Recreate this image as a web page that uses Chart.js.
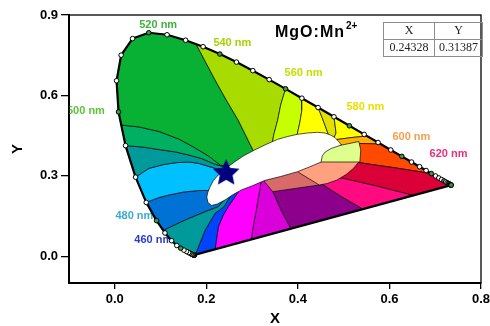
<!DOCTYPE html>
<html>
<head>
<meta charset="utf-8">
<script src="https://cdn.jsdelivr.net/npm/chart.js@4/dist/chart.umd.min.js"></script>
<style>
  html, body { margin: 0; padding: 0; background: #fff; overflow: hidden; }
  #wrap { width: 490px; height: 326px; overflow: hidden; position: relative; }
  canvas { display: block; }
</style>
</head>
<body>
<div id="wrap"><canvas id="cie" width="496" height="326"></canvas></div>
<script>
// ---- CIE 1931 spectral locus (5 nm steps) ----
const locusNm = [380,385,390,395,400,405,410,415,420,425,430,435,440,445,450,455,460,465,470,475,480,485,490,495,500,505,510,515,520,525,530,535,540,545,550,555,560,565,570,575,580,585,590,595,600,605,610,615,620,625,630,635,640,645,650,655,660,665,670,675,680,685,690,695,700];
const locusX = [0.1741,0.1740,0.1738,0.1736,0.1733,0.1730,0.1726,0.1721,0.1714,0.1703,0.1689,0.1669,0.1644,0.1611,0.1566,0.1510,0.1440,0.1355,0.1241,0.1096,0.0913,0.0687,0.0454,0.0235,0.0082,0.0039,0.0139,0.0389,0.0743,0.1142,0.1547,0.1929,0.2296,0.2658,0.3016,0.3373,0.3731,0.4087,0.4441,0.4788,0.5125,0.5448,0.5752,0.6029,0.6270,0.6482,0.6658,0.6801,0.6915,0.7006,0.7079,0.7140,0.7190,0.7230,0.7260,0.7283,0.7300,0.7311,0.7320,0.7327,0.7334,0.7340,0.7344,0.7346,0.7347];
const locusY = [0.0050,0.0050,0.0049,0.0049,0.0048,0.0048,0.0048,0.0048,0.0051,0.0058,0.0069,0.0086,0.0109,0.0138,0.0177,0.0227,0.0297,0.0399,0.0578,0.0868,0.1327,0.2007,0.2950,0.4127,0.5384,0.6548,0.7502,0.8120,0.8338,0.8262,0.8059,0.7816,0.7543,0.7243,0.6923,0.6589,0.6245,0.5896,0.5547,0.5202,0.4866,0.4544,0.4242,0.3965,0.3725,0.3514,0.3340,0.3197,0.3083,0.2993,0.2920,0.2859,0.2809,0.2770,0.2740,0.2717,0.2700,0.2689,0.2680,0.2673,0.2666,0.2660,0.2656,0.2654,0.2653];

// ---- measured emission colour coordinate ----
const cieX = 0.24328;
const cieY = 0.31387;

// ---- axis ticks ----
const xTickValues = [0.0, 0.2, 0.4, 0.6, 0.8];
const yTickValues = [0.0, 0.3, 0.6, 0.9];

// ---- colour-zone boundaries: each starts on the diagram outline and runs inward ----
const edgeBlueTeal       = [[0.1059,0.0960],[0.1543,0.1351],[0.1975,0.1660],[0.2262,0.1847],[0.2435,0.2172],[0.2695,0.2769]];
const edgeSkyBlue        = [[0.0687,0.2007],[0.0966,0.2190],[0.1182,0.2284],[0.1506,0.2396],[0.1830,0.2451],[0.2025,0.2451],[0.2305,0.2545],[0.2695,0.2918]];
const edgeTealSky        = [[0.0454,0.2950],[0.0750,0.3280],[0.1074,0.3422],[0.1333,0.3489],[0.1614,0.3515],[0.1830,0.3466],[0.2191,0.3280],[0.2695,0.3067]];
const edgeBluegreenTeal  = [[0.0235,0.4127],[0.0599,0.4075],[0.0966,0.3981],[0.1333,0.3888],[0.1614,0.3776],[0.1895,0.3646],[0.2176,0.3440],[0.2695,0.3179]];
const edgeGreenBluegreen = [[0.0141,0.4896],[0.0534,0.4821],[0.0966,0.4653],[0.1398,0.4373],[0.1722,0.4075],[0.2046,0.3739],[0.2305,0.3403],[0.2695,0.3291]];
const edgeLeafGreen      = [[0.1776,0.7913],[0.2191,0.6575],[0.2435,0.5828],[0.2694,0.5082],[0.2867,0.4485],[0.3018,0.3963],[0.3170,0.3664]];
const edgeLimeLeaf       = [[0.3731,0.6245],[0.3624,0.5642],[0.3559,0.5082],[0.3472,0.4522],[0.3429,0.4112]];
const edgeYellowLime     = [[0.4087,0.5896],[0.4088,0.5455],[0.4045,0.5007],[0.3991,0.4597],[0.3969,0.4336]];
const edgeOliveYellow    = [[0.4441,0.5547],[0.4531,0.5164],[0.4596,0.4866],[0.4661,0.4567],[0.4639,0.4336]];
const edgeYellowOlive    = [[0.4788,0.5202],[0.4812,0.4896],[0.4834,0.4597],[0.4747,0.4261]];
const edgeOrangeYellow   = [[0.5509,0.4484],[0.5180,0.4429],[0.4856,0.4354],[0.4639,0.4261]];
const edgeRedOrange      = [[0.5807,0.4187],[0.5352,0.4205],[0.5114,0.4075]];
const edgeCrimsonRed     = [[0.6915,0.3083],[0.6151,0.3291],[0.5611,0.3422],[0.5330,0.3496],[0.5071,0.3366]];
const edgePinkCrimson    = [[0.6519,0.2268],[0.5720,0.2619],[0.4856,0.2955],[0.4531,0.3030]];
const edgePurplePink     = [[0.5417,0.1757],[0.4963,0.2209],[0.4553,0.2657],[0.4099,0.2918],[0.3775,0.2918]];
const edgeVioletPurple   = [[0.3846,0.1027],[0.3630,0.1724],[0.3451,0.2407],[0.3386,0.2769],[0.3386,0.2993]];
const edgeMagentaViolet  = [[0.2982,0.0626],[0.3029,0.1164],[0.3083,0.1649],[0.3127,0.2097],[0.3181,0.2619],[0.3203,0.2918],[0.3235,0.3142]];
const edgeBlueMagenta    = [[0.2191,0.0259],[0.2262,0.1101],[0.2370,0.1537],[0.2478,0.1847],[0.2608,0.2172],[0.2867,0.2843]];
const edgeTealBand       = [[0.1759,0.0058],[0.1975,0.0978],[0.2191,0.1601],[0.2383,0.1847],[0.2543,0.2284],[0.2738,0.2769]];

// boundaries in order around the outline; zone i lies between edge i and edge i+1
const zoneEdges = [edgeBlueTeal, edgeSkyBlue, edgeTealSky, edgeBluegreenTeal, edgeGreenBluegreen,
  edgeLeafGreen, edgeLimeLeaf, edgeYellowLime, edgeOliveYellow, edgeYellowOlive, edgeOrangeYellow,
  edgeRedOrange, edgeCrimsonRed, edgePinkCrimson, edgePurplePink, edgeVioletPurple,
  edgeMagentaViolet, edgeBlueMagenta, edgeTealBand];

// inner patches near the white point
const patchDusky  = [[0.3271,0.2780],[0.3300,0.3067],[0.3991,0.3366],[0.4380,0.2993],[0.4467,0.2657],[0.3451,0.2407]];
const patchSalmon = [[0.3991,0.3153],[0.3948,0.3366],[0.4467,0.3664],[0.5353,0.3664],[0.5330,0.3515],[0.5222,0.3291],[0.5071,0.3067],[0.4856,0.2843],[0.4640,0.2713],[0.4467,0.2657]];
const patchPale   = [[0.4380,0.3515],[0.5353,0.3515],[0.5374,0.3963],[0.5330,0.4280],[0.5179,0.4224],[0.4963,0.4149],[0.4769,0.4112],[0.4380,0.3963]];
const whiteCore   = [[0.2010,0.2209],[0.2035,0.2396],[0.2083,0.2593],[0.2154,0.2825],[0.2262,0.3030],[0.2435,0.3291],[0.2623,0.3526],[0.2824,0.3757],[0.3055,0.3963],[0.3300,0.4168],[0.3559,0.4362],[0.3775,0.4466],[0.3991,0.4549],[0.4207,0.4597],[0.4423,0.4623],[0.4596,0.4597],[0.4710,0.4522],[0.4812,0.4429],[0.4892,0.4272],[0.4953,0.4149],[0.4726,0.4019],[0.4596,0.3888],[0.4531,0.3739],[0.4509,0.3515],[0.4250,0.3328],[0.3991,0.3153],[0.3624,0.2974],[0.3271,0.2825],[0.3019,0.2638],[0.2766,0.2470],[0.2586,0.2302],[0.2407,0.2097],[0.2241,0.1948],[0.2111,0.1892],[0.2035,0.2004]];

// wavelength annotations
const waveText = ['520 nm','540 nm','560 nm','580 nm','600 nm','620 nm','500 nm','480 nm','460 nm'];
const waveAtX  = [0.0534, 0.2154, 0.3710, 0.5061, 0.6066, 0.6876, -0.1044, 0.0015, 0.0426];
const waveAtY  = [0.8627, 0.7955, 0.6836, 0.5586, 0.4466, 0.3813, 0.5437, 0.1500, 0.0604];

// ---- styles ----
const zoneColors = ['#0072D6','#00C0FF','#009A9A','#00B062','#08B034','#A8DC00','#C6FF00','#FFFF00','#E1E100','#FFFF00','#FFB000','#FF4A00','#DC0038','#FF0A80','#8C008C','#DA00DA','#FF00FF','#0044FF','#009A9A'];
const waveColors = ['#44B044','#A6D400','#C4E000','#EAE000','#F4A050','#EC2C7C','#5CC43A','#3AAAD2','#2A3CC8'];
const edgeInk = 'rgba(0,0,0,0.85)';

Chart.defaults.font.family = "'Liberation Sans', Arial, Helvetica, sans-serif";

// outline of the diagram: locus points, then the purple line back to 380 nm (t 700..800)
const outline = locusNm.map((nm, i) => ({t: nm, x: locusX[i], y: locusY[i]}));

function outlinePos(p) {
  let best = Infinity, bt = 0;
  const n = outline.length;
  for (let i = 0; i < n; i++) {
    const a = outline[i];
    const b = i < n - 1 ? outline[i + 1] : {t: 800, x: outline[0].x, y: outline[0].y};
    const dx = b.x - a.x, dy = b.y - a.y, L = dx * dx + dy * dy;
    let u = L ? ((p[0] - a.x) * dx + (p[1] - a.y) * dy) / L : 0;
    u = Math.max(0, Math.min(1, u));
    const qx = a.x + u * dx, qy = a.y + u * dy;
    const d = (p[0] - qx) ** 2 + (p[1] - qy) ** 2;
    if (d < best) { best = d; bt = a.t + u * (b.t - a.t); }
  }
  return bt;
}

function outlineBetween(t1, t2) {
  if (t1 <= t2) return outline.filter(q => q.t > t1 && q.t < t2);
  return outline.filter(q => q.t > t1).concat(outline.filter(q => q.t < t2));
}

const pt = p => ({x: p[0], y: p[1]});

function zoneShape(e1, e2) {
  const pts = e1.slice().reverse().map(pt)
    .concat(outlineBetween(outlinePos(e1[0]), outlinePos(e2[0])).map(q => ({x: q.x, y: q.y})))
    .concat(e2.map(pt));
  pts.push(pts[0]);
  return pts;
}

function closed(list) {
  const pts = list.map(pt);
  pts.push(pts[0]);
  return pts;
}

function shapeSet(points, color, width) {
  return {
    data: points, backgroundColor: color, borderColor: edgeInk, borderWidth: width === undefined ? 0.8 : width,
    fill: 'shape', pointRadius: 0, tension: 0, borderJoinStyle: 'round'
  };
}

function makeStar(r, color) {
  const c = document.createElement('canvas');
  const s = Math.ceil(r * 2 + 2);
  c.width = c.height = s;
  const g = c.getContext('2d');
  g.translate(s / 2, s / 2 + r * 0.08);
  g.beginPath();
  for (let i = 0; i < 10; i++) {
    const a = -Math.PI / 2 + i * Math.PI / 5;
    const rr = i % 2 ? r * 0.48 : r;
    g.lineTo(rr * Math.cos(a), rr * Math.sin(a));
  }
  g.closePath();
  g.fillStyle = color;
  g.fill();
  return c;
}

const datasets = [];
zoneEdges.forEach((e, i) => {
  const next = zoneEdges[(i + 1) % zoneEdges.length];
  datasets.push(shapeSet(zoneShape(e, next), zoneColors[i]));
});
datasets.push(shapeSet(closed(patchDusky), '#D86A6A'));
datasets.push(shapeSet(closed(patchSalmon), '#FFA07E'));
datasets.push(shapeSet(closed(patchPale), '#DEFF8C'));
datasets.push(shapeSet(closed(whiteCore), '#FFFFFF', 0.8));

// spectral locus + purple line
const locusPts = locusNm.map((nm, i) => ({x: locusX[i], y: locusY[i]}));
datasets.push({
  data: locusPts.concat([locusPts[0]]), borderColor: '#000', borderWidth: 2.2,
  fill: false, pointRadius: 0, tension: 0, borderJoinStyle: 'round'
});
// wavelength markers
datasets.push({
  data: locusPts, showLine: false, pointRadius: 2.3, pointBorderWidth: 1,
  pointBorderColor: '#000',
  pointBackgroundColor: locusNm.map(nm => nm % 20 === 0 ? '#3f9a3f' : '#ffffff')
});
// measured point
datasets.push({
  data: [{x: cieX, y: cieY}], showLine: false, pointStyle: makeStar(14, '#00007F'), pointRadius: 14
});
datasets.forEach((d, i) => { d.order = datasets.length - i; });

const wavePlugin = {
  id: 'waveLabels',
  beforeDatasetsDraw(chart) {
    const {ctx, chartArea, scales} = chart;
    ctx.save();
    ctx.beginPath();
    ctx.rect(chartArea.left, chartArea.top, chartArea.right - chartArea.left, chartArea.bottom - chartArea.top);
    ctx.clip();
    ctx.font = "bold 11px 'Liberation Sans', Arial, sans-serif";
    ctx.textAlign = 'left';
    ctx.textBaseline = 'middle';
    waveText.forEach((t, i) => {
      ctx.fillStyle = waveColors[i];
      ctx.fillText(t, scales.x.getPixelForValue(waveAtX[i]), scales.y.getPixelForValue(waveAtY[i]));
    });
    ctx.restore();
  }
};

const framePlugin = {
  id: 'frameAndNotes',
  afterDraw(chart) {
    const {ctx, chartArea} = chart;
    ctx.save();
    ctx.strokeStyle = '#000';
    ctx.lineWidth = 1.3;
    ctx.strokeRect(chartArea.left, chartArea.top, chartArea.right - chartArea.left, chartArea.bottom - chartArea.top);

    // sample name
    ctx.fillStyle = '#000';
    ctx.textAlign = 'left';
    ctx.textBaseline = 'alphabetic';
    ctx.font = "bold 16px 'Liberation Sans', Arial, sans-serif";
    ctx.letterSpacing = '1px';
    ctx.fillText('MgO:Mn', 275, 37);
    const w = ctx.measureText('MgO:Mn').width;
    ctx.font = "bold 10px 'Liberation Sans', Arial, sans-serif";
    ctx.letterSpacing = '0px';
    ctx.fillText('2+', 275 + w + 1, 29);

    // coordinate table
    ctx.strokeStyle = '#8c8c8c';
    ctx.lineWidth = 1;
    ctx.strokeRect(383.5, 22.5, 99, 34);
    ctx.beginPath();
    ctx.moveTo(383.5, 39.5); ctx.lineTo(482.5, 39.5);
    ctx.moveTo(434.5, 22.5); ctx.lineTo(434.5, 56.5);
    ctx.stroke();
    ctx.fillStyle = '#222';
    ctx.font = "12px 'Liberation Serif', 'Times New Roman', serif";
    ctx.textAlign = 'center';
    ctx.textBaseline = 'middle';
    ctx.fillText('X', 409, 31);
    ctx.fillText('Y', 458.5, 31);
    ctx.fillText(cieX.toFixed(5), 409, 48);
    ctx.fillText(cieY.toFixed(5), 458.5, 48);
    ctx.restore();
  }
};

const tickFont = {size: 13, weight: 'bold'};
const titleFont = {size: 15, weight: 'bold', lineHeight: 1};

new Chart(document.getElementById('cie'), {
  type: 'line',
  data: {datasets},
  options: {
    responsive: false,
    animation: false,
    events: [],
    layout: {padding: {top: 15, right: 10, left: 0, bottom: 0}},
    plugins: {legend: {display: false}, tooltip: {enabled: false}},
    scales: {
      x: {
        type: 'linear', min: -0.1, max: 0.8,
        afterBuildTicks(scale) { scale.ticks = xTickValues.map(v => ({value: v})); },
        afterFit(scale) { scale.height = 43; },
        ticks: {font: tickFont, color: '#000', padding: 3, maxRotation: 0, autoSkip: false,
                callback: v => Number(v).toFixed(1)},
        grid: {drawOnChartArea: false, drawTicks: true, tickLength: 6, color: '#000', lineWidth: 1.3},
        border: {display: true, color: '#000', width: 2},
        title: {display: true, text: 'X', font: titleFont, color: '#000', padding: {top: 0, bottom: 0}}
      },
      y: {
        type: 'linear', min: -0.1, max: 0.9,
        afterBuildTicks(scale) { scale.ticks = yTickValues.map(v => ({value: v})); },
        afterFit(scale) { scale.width = 69; },
        ticks: {font: tickFont, color: '#000', padding: 3, autoSkip: false,
                callback: v => Number(v).toFixed(1)},
        grid: {drawOnChartArea: false, drawTicks: true, tickLength: 8, color: '#000', lineWidth: 1.3},
        border: {display: true, color: '#000', width: 2},
        title: {display: true, text: 'Y', font: titleFont, color: '#000', padding: {top: 10, bottom: 0}}
      }
    }
  },
  plugins: [wavePlugin, framePlugin]
});
</script>
</body>
</html>
